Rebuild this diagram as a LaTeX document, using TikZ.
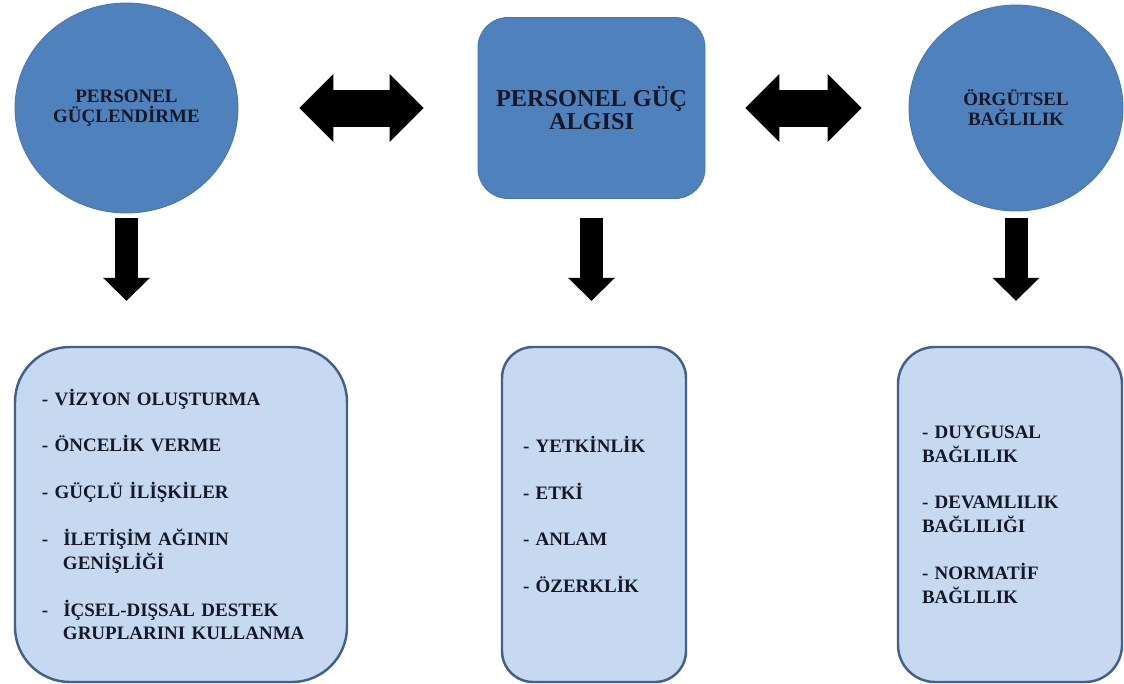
\documentclass[tikz,border=0pt]{standalone}
\usepackage{fontspec}
\setmainfont{Liberation Serif}
\usepackage{tikz}
\usetikzlibrary{shapes.geometric, arrows.meta, positioning}
\definecolor{myblue}{RGB}{79,129,189}
\definecolor{myrim}{RGB}{72,118,176}
\definecolor{myedge}{RGB}{66,96,138}
\definecolor{mypale}{RGB}{198,217,241}
\definecolor{mydark}{RGB}{22,24,40}
\tikzset{
  topcircle/.style={ellipse, fill=myblue, draw=myrim, line width=0.5pt,
    inner sep=0pt, align=center, text=mydark,
    font=\fontsize{10.8pt}{11.5pt}\selectfont\bfseries},
  topbox/.style={rectangle, fill=myblue, draw=myrim, line width=0.5pt,
    rounded corners=0.6cm, minimum width=4.54cm, minimum height=3.62cm,
    align=center, text=mydark,
    font=\fontsize{13.8pt}{11.8pt}\selectfont\bfseries},
  listbox/.style={rectangle, fill=mypale, draw=myedge, line width=1.4pt,
    minimum height=6.70cm, inner sep=0pt, align=left, text=mydark,
    font=\fontsize{10.8pt}{13.6pt}\selectfont\bfseries},
  dblarrow/.style={{Triangle[length=0.68cm, width=1.36cm, line width=0pt]}-{Triangle[length=0.68cm, width=1.36cm, line width=0pt]},
    line width=0.74cm, color=black},
  downarrow/.style={-{Triangle[length=0.46cm, width=0.94cm, line width=0pt]},
    line width=0.46cm, color=black}
}

\begin{document}
\begin{tikzpicture}
  \useasboundingbox (0,0) rectangle (22.48,-13.68);

  % Top row: the three concepts
  \node[topcircle, minimum width=4.46cm, minimum height=4.20cm] (pg) at (2.53,-2.16)
    {PERSONEL\\GÜÇLENDİRME};
  \node[topbox] (pga) at (11.83,-2.16) {PERSONEL GÜÇ\\ALGISI};
  \node[topcircle, minimum width=4.28cm, minimum height=4.12cm] (ob) at (20.32,-2.16)
    {ÖRGÜTSEL\\BAĞLILIK};

  % Bottom row: dimension lists
  \node[listbox, minimum width=6.64cm, text width=5.56cm, rounded corners=1.1cm] (list1) at (3.62,-10.29)
    {- VİZYON OLUŞTURMA\\[13pt]
     - ÖNCELİK VERME\\[13pt]
     - GÜÇLÜ İLİŞKİLER\\[13pt]
     -\hspace{0.3cm}İLETİŞİM AĞININ\\
     \hspace*{0.42cm}GENİŞLİĞİ\\[13pt]
     -\hspace{0.3cm}İÇSEL-DIŞSAL DESTEK\\
     \hspace*{0.42cm}GRUPLARINI KULLANMA};
  \node[listbox, minimum width=3.68cm, text width=2.84cm, rounded corners=0.62cm] (list2) at (11.88,-10.29)
    {- YETKİNLİK\\[13pt]
     - ETKİ\\[13pt]
     - ANLAM\\[13pt]
     - ÖZERKLİK};
  \node[listbox, minimum width=4.48cm, text width=3.52cm, rounded corners=0.74cm] (list3) at (20.20,-10.29)
    {- DUYGUSAL\\
     BAĞLILIK\\[13pt]
     - DEVAMLILIK\\
     BAĞLILIĞI\\[13pt]
     - NORMATİF\\
     BAĞLILIK};

  % Two-way block arrows
  \draw[dblarrow, shorten <=1.22cm, shorten >=1.08cm] (pg.east) -- (pga.west);
  \draw[dblarrow, shorten <=0.80cm, shorten >=0.94cm] (pga.east) -- (ob.west);

  % Down block arrows
  \draw[downarrow, shorten <=0.10cm, shorten >=0.90cm] (pg.south) -- (pg.south |- list1.north);
  \draw[downarrow, shorten <=0.39cm, shorten >=0.90cm] (pga.south) -- (pga.south |- list2.north);
  \draw[downarrow, shorten <=0.14cm, shorten >=0.90cm] (ob.south) -- (ob.south |- list3.north);
\end{tikzpicture}
\end{document}
